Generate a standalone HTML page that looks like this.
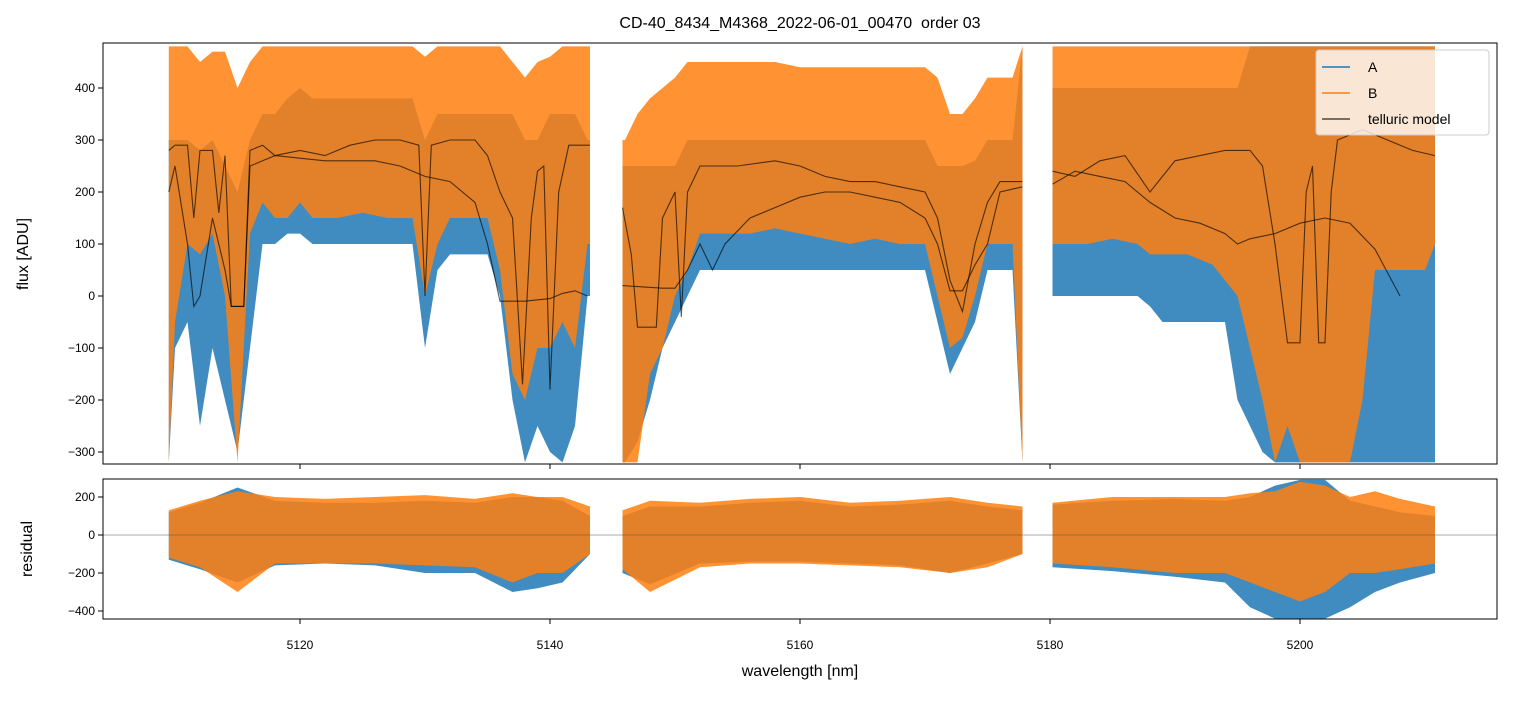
<!DOCTYPE html>
<html><head><meta charset="utf-8"><style>
body{margin:0;background:#fff;}
svg{font-family:"Liberation Sans","DejaVu Sans",sans-serif;}
</style></head><body>
<svg id="chart" width="1513" height="696">
<defs>
<clipPath id="cTop"><rect x="103" y="43" width="1394" height="421"/></clipPath>
<clipPath id="cBot"><rect x="103" y="479" width="1394" height="140"/></clipPath>
</defs>
<text x="800" y="28" text-anchor="middle" font-size="16" style="white-space:pre">CD-40_8434_M4368_2022-06-01_00470  order 03</text>
<g id="gtop" clip-path="url(#cTop)"></g>
<g id="gbot" clip-path="url(#cBot)"></g>
<g id="axes"></g>
<text transform="translate(28,254) rotate(-90)" text-anchor="middle" font-size="16">flux [ADU]</text>
<text transform="translate(32,549) rotate(-90)" text-anchor="middle" font-size="16">residual</text>
<text x="800" y="676" text-anchor="middle" font-size="16">wavelength [nm]</text>
<g>
<rect x="1316" y="50" width="173" height="85" fill="#fff" fill-opacity="0.8" stroke="#ccc" rx="3"/>
<line x1="1322" y1="67" x2="1350" y2="67" stroke="#1f77b4" stroke-width="1.5"/>
<text x="1368" y="72" font-size="14">A</text>
<line x1="1322" y1="93" x2="1350" y2="93" stroke="#ff7f0e" stroke-width="1.5"/>
<text x="1368" y="98" font-size="14">B</text>
<line x1="1322" y1="119" x2="1350" y2="119" stroke="#000" stroke-opacity="0.7" stroke-width="1.5"/>
<text x="1368" y="124" font-size="14">telluric model</text>
</g>
</svg>
<script>
const NS="http://www.w3.org/2000/svg";
// ---- data (null = gap between detector segments) ----
const wave=[5109.5,5110,5111,5112,5113,5114,5115,5116,5117,5118,5119,5120,5121,5123,5125,5127,5129,5130,5131,5132,5134,5135,5136,5137,5138,5139,5140,5141,5142,5143,5143.2,null,
5145.8,5146,5147,5148,5149,5150,5151,5152,5154,5156,5158,5160,5162,5164,5166,5168,5170,5171,5172,5173,5174,5175,5176,5177,5177.8,null,
5180.2,5181,5183,5185,5187,5188,5189,5191,5193,5194,5195,5196,5197,5198,5199,5200,5201,5202,5203,5204,5205,5206,5208,5210,5210.8];
const bHi=[480,480,480,450,470,470,400,450,480,480,480,480,480,480,480,480,480,460,480,480,480,480,480,450,420,450,460,480,480,480,480,null,
300,300,350,380,400,420,450,450,450,450,450,440,440,440,440,440,440,420,350,350,380,420,420,420,480,null,
480,480,480,480,480,480,480,480,480,480,480,480,480,480,480,480,480,480,480,480,480,480,480,480,480];
const bLo=[-320,-50,100,80,120,0,-320,120,180,150,150,180,150,150,160,150,150,0,100,150,150,150,50,-150,-200,-100,-100,-50,-100,100,100,null,
-320,-320,-320,-150,-100,0,50,120,120,120,130,120,110,100,110,100,100,0,-100,-80,0,100,100,100,-320,null,
100,100,100,110,100,80,80,80,60,30,0,-100,-200,-320,-250,-320,-320,-320,-320,-320,-200,50,50,50,100];
const aHi=[300,300,300,280,300,250,200,300,350,350,380,400,380,380,380,380,380,300,350,350,350,350,350,350,300,300,350,350,350,300,300,null,
250,250,250,250,250,250,300,300,300,300,300,300,300,300,300,300,300,250,250,250,260,300,300,300,480,null,
400,400,400,400,400,400,400,400,400,400,400,480,480,480,480,480,480,480,480,480,480,480,480,480,480];
const aLo=[-320,-100,-50,-250,-100,-200,-300,-100,100,100,120,120,100,100,100,100,100,-100,50,80,80,80,0,-200,-320,-250,-300,-320,-250,0,0,null,
-320,-320,-280,-200,-100,-50,0,50,50,50,50,50,50,50,50,50,50,-50,-150,-100,-50,50,50,50,-320,null,
0,0,0,0,0,-20,-50,-50,-50,-50,-200,-250,-300,-320,-320,-320,-320,-320,-320,-320,-320,-320,-320,-320,-320];
// telluric models
const tW1=[5109.5,5110,5111,5111.5,5112,5113,5113.5,5114,5114.5,5115.5,5116,5117,5118,5120,5122,5124,5126,5128,5129.5,5130,5130.5,5132,5134,5135,5136,5137,5137.8,5138.5,5139,5139.5,5140,5140.7,5141.5,5143.2,null,
5145.8,5146.5,5147,5148.5,5149,5150,5150.5,5151,5152,5155,5158,5160,5162,5164,5166,5168,5170,5171,5172,5173,5174,5175,5176,5177.8,null,
5180.2,5182,5184,5186,5188,5190,5192,5194,5196,5197,5198,5199,5200,5200.5,5201,5201.5,5202,5202.5,5203,5205,5207,5209,5210.8];
const tV1=[280,290,290,150,280,280,160,270,-20,-20,280,290,270,280,270,290,300,300,290,0,290,300,300,270,200,150,-170,150,240,250,-180,200,290,290,null,
170,80,-60,-60,150,200,-40,200,250,250,260,250,230,220,220,210,200,150,30,-30,100,180,220,220,null,
240,230,260,270,200,260,270,280,280,250,100,-90,-90,200,250,-90,-90,200,300,320,300,280,270];
const tW2=[5109.5,5110,5111,5111.5,5112,5113,5114,5114.5,5115.5,5116,5118,5122,5126,5128,5130,5132,5134,5135,5136,5138,5140,5141,5142,5143,null,
5145.8,5147,5149,5150,5151,5152,5153,5154,5156,5158,5160,5162,5164,5166,5168,5170,5171,5172,5173,5174,5175,5176,5177.8,null,
5180.2,5182,5184,5186,5188,5190,5192,5194,5195,5196,5198,5200,5202,5204,5206,5208];
const tV2=[200,250,100,-20,0,150,50,-20,-20,250,270,260,260,250,230,220,180,100,-10,-10,-5,5,10,0,null,
20,18,15,15,50,100,50,100,150,170,190,200,200,190,180,150,100,10,10,60,100,200,210,null,
215,240,230,220,180,150,140,120,100,110,120,140,150,140,90,0];
// residuals
const rW=[5109.5,5112,5115,5118,5122,5126,5130,5134,5137,5139,5141,5143.2,null,5145.8,5148,5152,5156,5160,5164,5168,5172,5175,5177.8,null,5180.2,5185,5190,5194,5196,5198,5200,5202,5204,5206,5208,5210.8];
const rbHi=[130,180,230,200,190,200,210,190,220,200,200,150,null,130,180,170,190,200,170,180,200,170,150,null,170,200,200,200,220,230,280,260,200,230,190,150];
const rbLo=[-120,-170,-300,-150,-150,-150,-160,-170,-250,-200,-200,-100,null,-180,-300,-170,-150,-150,-160,-170,-200,-170,-100,null,-150,-170,-200,-200,-250,-300,-350,-300,-200,-200,-180,-150];
const raHi=[120,170,250,180,170,170,180,170,200,200,180,100,null,100,150,150,170,180,150,160,180,150,130,null,160,180,190,180,200,260,290,290,180,150,120,100];
const raLo=[-130,-180,-250,-160,-150,-160,-200,-200,-300,-280,-250,-100,null,-200,-260,-150,-140,-140,-150,-160,-200,-150,-100,null,-170,-190,-220,-250,-380,-440,-440,-440,-380,-300,-250,-200];
const xTicks=[5120,5140,5160,5180,5200];
const yTicksTop=[400,300,200,100,0,-100,-200,-300];
const yTicksBot=[200,0,-200,-400];
(function(){
const X0=103,X1=1497,W0=5104.24,W1=5215.76;
const sx=w=>X0+(w-W0)/(W1-W0)*(X1-X0);
const syT=v=>296-v*0.52;
const syB=v=>535-v*0.19;
function segs(xs,...ys){const out=[];let cur=[];xs.forEach((x,i)=>{if(x===null){if(cur.length)out.push(cur);cur=[];}else{const vals=ys.map(a=>a[i]);if(vals.every(v=>typeof v==='number'))cur.push([x,...vals]);}});if(cur.length)out.push(cur);return out;}
function band(g,xs,hi,lo,sy,color,op,name){
 segs(xs,hi,lo).forEach(s=>{
  const up=s.map(p=>sx(p[0]).toFixed(1)+','+sy(p[1]).toFixed(1));
  const dn=s.slice().reverse().map(p=>sx(p[0]).toFixed(1)+','+sy(p[2]).toFixed(1));
  const el=document.createElementNS(NS,'polygon');
  el.setAttribute('points',up.concat(dn).join(' '));
  el.setAttribute('fill',color);el.setAttribute('fill-opacity',op);
  
  
  g.appendChild(el);});
}
function line(g,xs,ys,sy,color,w,op,name){
 segs(xs,ys).forEach(s=>{
  const el=document.createElementNS(NS,'polyline');
  el.setAttribute('points',s.map(p=>sx(p[0]).toFixed(1)+','+sy(p[1]).toFixed(1)).join(' '));
  el.setAttribute('fill','none');el.setAttribute('stroke',color);el.setAttribute('stroke-width',w);el.setAttribute('stroke-opacity',op);
  
  
  g.appendChild(el);});
}
const gTop=document.getElementById('gtop'),gBot=document.getElementById('gbot'),ax=document.getElementById('axes');
band(gTop,wave,aHi,aLo,syT,'#1f77b4',0.85,'series-a-flux');
band(gTop,wave,bHi,bLo,syT,'#ff7f0e',0.85,'series-b-flux');
line(gTop,tW1,tV1,syT,'#000',1.1,0.65,'telluric-model-b');
line(gTop,tW2,tV2,syT,'#000',1.1,0.65,'telluric-model-a');
band(gBot,rW,raHi,raLo,syB,'#1f77b4',0.85,'residual-a');
band(gBot,rW,rbHi,rbLo,syB,'#ff7f0e',0.85,'residual-b');
const z=document.createElementNS(NS,'line');
z.setAttribute('x1',X0);z.setAttribute('x2',X1);z.setAttribute('y1',syB(0));z.setAttribute('y2',syB(0));z.setAttribute('stroke','#555');z.setAttribute('stroke-width','0.6');


gBot.appendChild(z);
function mk(tag,attrs,txt){const e=document.createElementNS(NS,tag);for(const k in attrs)e.setAttribute(k,attrs[k]);if(txt!==undefined)e.textContent=txt;ax.appendChild(e);return e;}
let r=mk('rect',{x:X0,y:43,width:X1-X0,height:421,fill:'none',stroke:'#000','stroke-width':1});


r=mk('rect',{x:X0,y:479,width:X1-X0,height:140,fill:'none',stroke:'#000','stroke-width':1});


xTicks.forEach(t=>{const x=sx(t);
 mk('line',{x1:x,x2:x,y1:464,y2:469,stroke:'#000'});
 mk('line',{x1:x,x2:x,y1:619,y2:624,stroke:'#000'});
 const e=mk('text',{x:x,y:649,'text-anchor':'middle','font-size':12},String(t));
 
 });
yTicksTop.forEach(t=>{const y=syT(t);
 mk('line',{x1:X0-5,x2:X0,y1:y,y2:y,stroke:'#000'});
 const e=mk('text',{x:X0-8,y:y+4,'text-anchor':'end','font-size':12},String(t).replace('-','\u2212'));
 
 });
yTicksBot.forEach(t=>{const y=syB(t);
 mk('line',{x1:X0-5,x2:X0,y1:y,y2:y,stroke:'#000'});
 const e=mk('text',{x:X0-8,y:y+4,'text-anchor':'end','font-size':12},String(t).replace('-','\u2212'));
 
 });
})();
</script>
</body></html>
